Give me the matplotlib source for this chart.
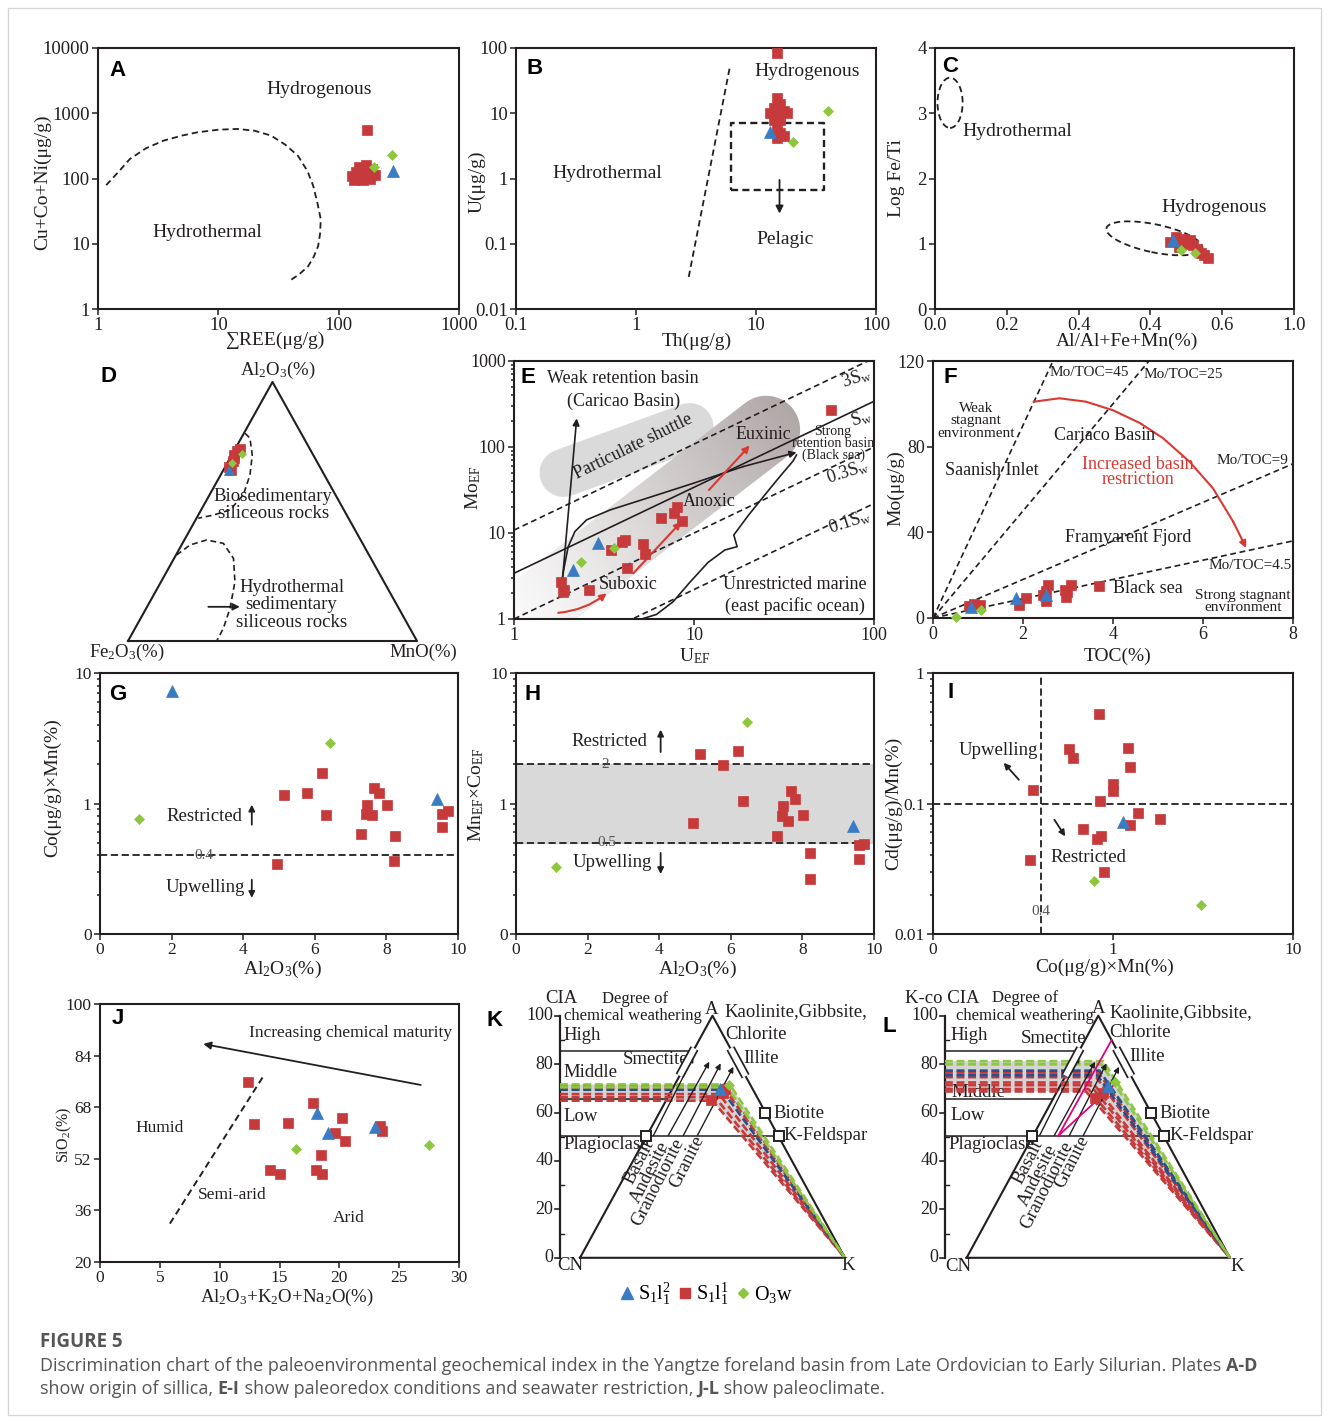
import numpy as np
import matplotlib
matplotlib.use("Agg")
import matplotlib.pyplot as plt
from matplotlib.patches import Ellipse, PathPatch, Rectangle
from matplotlib.path import Path
from matplotlib.transforms import ScaledTranslation
from matplotlib.lines import Line2D
from matplotlib.ticker import NullLocator, LogLocator, NullFormatter

plt.rcParams["font.family"] = ["Liberation Serif", "DejaVu Serif"]
plt.rcParams["mathtext.fontset"] = "custom"
plt.rcParams["mathtext.rm"] = "Liberation Serif"
plt.rcParams["mathtext.it"] = "Liberation Serif:italic"
plt.rcParams["mathtext.bf"] = "Liberation Serif:bold"
plt.rcParams["axes.unicode_minus"] = False

# ---------------- data ----------------
# A: sum REE vs Cu+Co+Ni
A_REE_RED = [172, 130, 140, 152, 165, 178, 188, 158, 148, 200, 170, 182, 160, 135]
A_CCN_RED = [560, 110, 125, 135, 110, 125, 140, 95, 150, 115, 160, 100, 130, 95]
A_REE_BLUE = [282]
A_CCN_BLUE = [132]
A_REE_GREEN = [198, 275]
A_CCN_GREEN = [148, 230]
A_BOUND_X = [1.17, 1.5, 1.84, 2.5, 3.5, 5, 6.7, 10, 14.4, 20, 27.4, 36, 45.9, 55, 61.5, 67, 71, 70, 67.5, 62, 55.7, 47, 39]
A_BOUND_Y = [79, 130, 199, 290, 380, 455, 510, 560, 575, 540, 455, 330, 223, 130, 77, 40, 23.7, 14, 9.2, 6.3, 4.5, 3.4, 2.7]

# B: Th vs U
B_TH_RED = [15, 15, 16, 14, 17, 13, 18, 15, 16, 15, 16, 17, 15, 14]
B_U_RED = [85, 17, 14, 12, 11, 10, 10, 9, 8, 6, 5, 4.5, 4.2, 8]
B_TH_BLUE = [13.2]
B_U_BLUE = [5.2]
B_TH_GREEN = [40, 20.5]
B_U_GREEN = [10.8, 3.6]
B_BOUND_TH = [2.75, 6.1]
B_BOUND_U = [0.031, 55]
B_BOX_TH = [6.2, 37]
B_BOX_U = [0.67, 7.0]

# C: Al/(Al+Fe+Mn) vs log Fe/Ti
C_X_RED = [0.655, 0.67, 0.69, 0.70, 0.72, 0.73, 0.75, 0.76, 0.74, 0.68, 0.71]
C_Y_RED = [1.02, 1.10, 1.08, 1.00, 0.98, 0.92, 0.82, 0.78, 0.86, 0.95, 1.05]
C_X_BLUE = [0.663]
C_Y_BLUE = [1.06]
C_X_GREEN = [0.686, 0.724]
C_Y_GREEN = [0.91, 0.86]
C_XTICK_LABELS = ["0.0", "0.2", "0.4", "0.4", "0.6", "1.0"]

# D: Al2O3 - Fe2O3 - MnO (%)
D_AL_RED = [71.8, 73.4, 69.5, 67.3, 74.1, 66.0, 70.5]
D_FE_RED = [27.3, 25.5, 29.0, 31.25, 24.15, 31.5, 28.0]
D_MN_RED = [0.9, 1.1, 1.5, 1.45, 1.75, 2.5, 1.5]
D_AL_BLUE = [66.0]
D_FE_BLUE = [32.1]
D_MN_BLUE = [1.9]
D_AL_GREEN = [72.1, 68.6]
D_FE_GREEN = [24.4, 29.8]
D_MN_GREEN = [3.5, 1.6]
D_BIO_AL = [80.2, 78.3, 71.8, 64.1, 56.4, 50.6, 48.6, 47.4]
D_BIO_MN = [0.4, 3.05, 7.1, 10.15, 11.7, 10.0, 5.2, 0.6]
D_HYD_AL = [33.2, 37.1, 39.0, 37.7, 31.9, 22.9, 12.6, 4.9, 0.0]
D_HYD_MN = [0.2, 2.95, 7.7, 14.15, 20.55, 25.55, 29.0, 30.55, 30.7]

# E: U_EF vs Mo_EF
E_U_RED = [1.82, 1.89, 1.86, 2.61, 3.44, 3.96, 4.16, 4.27, 5.22, 5.33, 6.55, 7.76, 8.07, 8.6, 58]
E_MO_RED = [2.67, 2.15, 2.04, 2.15, 6.35, 7.8, 8.3, 3.88, 7.45, 5.65, 14.8, 16.9, 20.2, 13.9, 269]
E_U_BLUE = [2.12, 2.94]
E_MO_BLUE = [3.71, 7.6]
E_U_GREEN = [2.35, 3.59]
E_MO_GREEN = [4.56, 6.63]
E_SW_RATIOS = [10.8, 3.4, 1.0, 0.22]
E_SW_LABELS = [r"3S$_{\mathrm{w}}$", r"S$_{\mathrm{w}}$", r"0.3S$_{\mathrm{w}}$", r"0.1S$_{\mathrm{w}}$"]
E_SW_STYLES = ["dash", "solid", "dash", "dash"]
E_TREND_U = [1.815, 1.895, 2.00, 2.18, 2.53, 3.41, 5.45, 9.89, 18.7, 37.1]
E_TREND_MO = [2.27, 3.88, 6.93, 10.4, 14.2, 18.5, 25.3, 37.8, 59.1, 86.7]
E_OPEN_U = [5.11, 6.19, 7.66, 9.48, 11.98, 14.83, 17.36, 16.64, 19.98, 24.73, 29.95, 35.5, 37.1]
E_OPEN_MO = [1.0, 1.13, 1.59, 2.67, 4.56, 6.34, 6.94, 9.48, 15.9, 27.7, 45.2, 68.7, 80.7]

# F: TOC vs Mo
F_TOC_RED = [0.81, 1.04, 0.92, 1.91, 2.06, 2.44, 2.56, 2.52, 2.93, 2.96, 3.07, 3.68, 2.50, 2.98]
F_MO_RED = [5.4, 5.9, 6.5, 6.2, 9.3, 10.9, 15.6, 7.8, 13.2, 9.6, 15.6, 15.1, 12.5, 12.0]
F_TOC_BLUE = [0.85, 1.84, 2.52]
F_MO_BLUE = [5.0, 9.3, 10.6]
F_TOC_GREEN = [0.5, 1.07]
F_MO_GREEN = [0.5, 3.9]
F_RATIOS = [45, 25, 9, 4.5]
F_ARC_TOC = [2.24, 2.81, 3.4, 4.0, 4.6, 5.11, 5.7, 6.22, 6.67, 6.96]
F_ARC_MO = [101, 102.6, 101, 97, 91, 84, 73, 60.6, 45, 32.7]

# G: Al2O3 vs Co x Mn
G_AL_RED = [5.15, 5.78, 6.20, 6.32, 4.94, 7.30, 7.44, 7.47, 7.60, 7.64, 7.78, 8.03, 8.25, 8.22, 9.55, 9.71, 9.55]
G_CM_RED = [1.17, 1.20, 1.71, 0.81, 0.343, 0.58, 0.83, 0.98, 0.81, 1.32, 1.20, 0.98, 0.56, 0.36, 0.83, 0.87, 0.66]
G_AL_BLUE = [2.02, 9.41]
G_CM_BLUE = [7.23, 1.09]
G_AL_GREEN = [1.10, 6.43]
G_CM_GREEN = [0.76, 2.92]

# H: Al2O3 vs Mn_EF x Co_EF
H_AL_RED = [5.14, 6.21, 5.79, 6.33, 4.95, 7.30, 7.43, 7.46, 7.60, 7.67, 7.79, 8.02, 8.22, 8.21, 9.58, 9.72, 9.58]
H_MC_RED = [2.41, 2.54, 1.96, 1.05, 0.705, 0.567, 0.80, 0.95, 0.74, 1.24, 1.09, 0.81, 0.42, 0.265, 0.48, 0.49, 0.373]
H_AL_BLUE = [9.41]
H_MC_BLUE = [0.67]
H_AL_GREEN = [1.12, 6.46]
H_MC_GREEN = [0.326, 4.19]

# I: Co x Mn vs Cd/Mn
I_CM_RED = [0.832, 0.567, 0.597, 1.205, 1.24, 0.996, 1.0, 0.36, 0.85, 1.37, 1.82, 1.25, 0.678, 0.857, 0.82, 0.347, 0.896]
I_CD_RED = [0.485, 0.263, 0.223, 0.268, 0.189, 0.141, 0.124, 0.128, 0.105, 0.0845, 0.076, 0.0689, 0.0641, 0.056, 0.0537, 0.037, 0.030]
I_CM_BLUE = [1.14]
I_CD_BLUE = [0.0718]
I_CM_GREEN = [0.78, 3.1]
I_CD_GREEN = [0.0253, 0.0168]

# J: Al2O3+K2O+Na2O vs SiO2
J_SUM_RED = [12.38, 12.89, 15.73, 14.19, 15.08, 17.81, 20.23, 19.62, 20.46, 18.45, 18.03, 18.59, 23.38, 23.6]
J_SI_RED = [75.9, 62.8, 63.0, 48.5, 47.2, 69.4, 64.5, 59.9, 57.5, 53.1, 48.5, 47.2, 62.1, 60.7]
J_SUM_BLUE = [18.17, 19.09, 22.96]
J_SI_BLUE = [66.1, 60.1, 61.9]
J_SUM_GREEN = [16.37, 27.5]
J_SI_GREEN = [55.0, 56.4]
J_DIVIDE_X = [5.84, 13.58]
J_DIVIDE_Y = [31.9, 77.2]

# K: CIA (A-CN-K); line levels and bend positions per sample
K_CIA_RED = [70.9, 69.9, 67.6, 66.3, 64.9]
K_BEND_RED = [55.0, 54.5, 52.5, 51.0, 50.0]
K_CIA_BLUE = [69.4]
K_BEND_BLUE = [53.5]
K_CIA_GREEN = [71.6, 70.4]
K_BEND_GREEN = [56.5, 55.6]
K_PT_X_RED = [49.5, 53.8, 54.8]
K_PT_Y_RED = [65.2, 67.9, 69.6]
K_PT_X_BLUE = [53.0]
K_PT_Y_BLUE = [69.8]
K_PT_X_GREEN = [56.3]
K_PT_Y_GREEN = [71.5]

# L: K-corrected CIA
L_CIA_RED = [76.5, 74.6, 72.4, 71.3, 69.7, 68.7]
L_BEND_RED = [50.0, 49.2, 47.8, 47.0, 46.2, 45.3]
L_CIA_BLUE = [77.3, 75.4]
L_BEND_BLUE = [50.4, 49.6]
L_CIA_GREEN = [81.2, 79.9]
L_BEND_GREEN = [51.9, 51.2]
L_PT_X_RED = [48.7, 51.9]
L_PT_Y_RED = [65.9, 67.9]
L_PT_X_BLUE = [53.8]
L_PT_Y_BLUE = [71.1]
L_PT_X_GREEN = [56.5]
L_PT_Y_GREEN = [72.4]

CIA_TICKS = [0, 20, 40, 60, 80, 100]
LEGEND_LABELS = [r"$\mathregular{S_1l_1^2}$", r"$\mathregular{S_1l_1^1}$", r"$\mathregular{O_3w}$"]

# ---------------- styling ----------------
RED = "#C63A3B"
BLUE = "#3A7CC3"
GREEN = "#8DC63F"
INK = "#231F20"
DASH = (0, (3.5, 2.2))
STYLE = {
    "blue": dict(marker="^", color=BLUE, ms=8.5),
    "red": dict(marker="s", color=RED, ms=7.5),
    "green": dict(marker="D", color=GREEN, ms=5.5),
}

W, H = 1329, 1423
fig = plt.figure(figsize=(W / 100, H / 100), dpi=100)


def px_axes(l, t, r, b):
    return fig.add_axes([l / W, 1 - b / H, (r - l) / W, (b - t) / H])


def ftext(x, y, s, **kw):
    return fig.text(x / W, 1 - y / H, s, **kw)


def frame(ax, size=13):
    for s in ax.spines.values():
        s.set_linewidth(1.5)
        s.set_color(INK)
    ax.tick_params(which="both", direction="out", colors=INK, labelsize=size, pad=2, width=1.1)
    ax.tick_params(which="major", length=4)
    ax.tick_params(which="minor", length=2.5)
    ax.patch.set_alpha(0)


def pts(ax, x, y, kind, clip=False):
    st = STYLE[kind]
    ax.plot(x, y, ls="none", marker=st["marker"], ms=st["ms"], mfc=st["color"],
            mec=st["color"], mew=0.5, clip_on=clip, zorder=6)


def all_pts(ax, red, blue, green):
    pts(ax, *red, "red")
    pts(ax, *blue, "blue")
    pts(ax, *green, "green")


def letter(x, y, s):
    ftext(x, y, s, family="Liberation Sans", weight="bold", size=16, ha="center", va="center", color="black")


def no_minor(ax, axis="both"):
    if axis in ("x", "both"):
        ax.xaxis.set_minor_locator(NullLocator())
    if axis in ("y", "both"):
        ax.yaxis.set_minor_locator(NullLocator())


def log_minor(axis):
    axis.set_minor_locator(LogLocator(base=10, subs=np.arange(2, 10)))
    axis.set_minor_formatter(NullFormatter())


def arrow(ax, start, end, color=INK, lw=1.1, ms=10, style="-|>", **kw):
    ax.annotate("", xy=end, xytext=start,
                arrowprops=dict(arrowstyle=style, color=color, lw=lw, mutation_scale=ms,
                                shrinkA=0, shrinkB=0, **kw), annotation_clip=False)


def stadium(length, width, angle):
    r = width / 2.0
    h = length / 2.0 - r
    t1 = np.linspace(-np.pi / 2, np.pi / 2, 40)
    t2 = np.linspace(np.pi / 2, 3 * np.pi / 2, 40)
    xs = np.concatenate([h + r * np.cos(t1), -h + r * np.cos(t2)])
    ys = np.concatenate([r * np.sin(t1), r * np.sin(t2)])
    a = np.deg2rad(angle)
    X = xs * np.cos(a) - ys * np.sin(a)
    Y = xs * np.sin(a) + ys * np.cos(a)
    v = np.column_stack([X, Y]) / 100.0
    v = np.vstack([v, v[:1]])
    return Path(v, closed=True)


# outer frame of the figure card
fig.add_artist(Rectangle((8 / W, 1 - 1415 / H), (1313) / W, (1407) / H, transform=fig.transFigure,
                         fill=False, ec="#D5D5D5", lw=0.9))

# ================= A =================
axA = px_axes(98, 48, 459, 309)
frame(axA, 13.5)
axA.set_xscale("log"); axA.set_yscale("log")
axA.plot(A_BOUND_X, A_BOUND_Y, ls=DASH, color=INK, lw=1.3)
all_pts(axA, (A_REE_RED, A_CCN_RED), (A_REE_BLUE, A_CCN_BLUE), (A_REE_GREEN, A_CCN_GREEN))
axA.text(68.4, 2312, "Hydrogenous", ha="center", va="center", size=14, color=INK)
axA.text(8.1, 14.8, "Hydrothermal", ha="center", va="center", size=14, color=INK)
axA.set_xlim(1, 1000); axA.set_ylim(1, 10000)
axA.set_xticks([1, 10, 100, 1000], ["1", "10", "100", "1000"])
axA.set_yticks([1, 10, 100, 1000, 10000], ["1", "10", "100", "1000", "10000"])
no_minor(axA)
letter(117, 70, "A")
ftext(275, 340, "∑REE(μg/g)", ha="center", va="center", size=14, color=INK)
ftext(43, 182, "Cu+Co+Ni(μg/g)", ha="center", va="center", size=14, rotation=90, color=INK)

# ================= B =================
axB = px_axes(516, 48, 876, 309)
frame(axB, 13.5)
axB.set_xscale("log"); axB.set_yscale("log")
axB.plot(B_BOUND_TH, B_BOUND_U, ls=DASH, color=INK, lw=1.3)
bx0, bx1 = B_BOX_TH
by0, by1 = B_BOX_U
axB.plot([bx0, bx1, bx1, bx0, bx0], [by0, by0, by1, by1, by0], ls=(0, (3, 1.8)), color=INK, lw=1.7)
arrow(axB, (15.7, 0.95), (15.7, 0.29), lw=1.3, ms=11)
all_pts(axB, (B_TH_RED, B_U_RED), (B_TH_BLUE, B_U_BLUE), (B_TH_GREEN, B_U_GREEN))
axB.text(26.8, 43.5, "Hydrogenous", ha="center", va="center", size=14, color=INK)
axB.text(0.573, 1.21, "Hydrothermal", ha="center", va="center", size=14, color=INK)
axB.text(17.5, 0.115, "Pelagic", ha="center", va="center", size=14, color=INK)
axB.set_xlim(0.1, 100); axB.set_ylim(0.01, 100)
axB.set_xticks([0.1, 1, 10, 100], ["0.1", "1", "10", "100"])
axB.set_yticks([0.01, 0.1, 1, 10, 100], ["0.01", "0.1", "1", "10", "100"])
no_minor(axB)
letter(535, 68, "B")
ftext(697, 341, "Th(μg/g)", ha="center", va="center", size=14, color=INK)
ftext(477, 182, "U(μg/g)", ha="center", va="center", size=14, rotation=90, color=INK)

# ================= C =================
axC = px_axes(935, 48, 1294, 309)
frame(axC, 13.5)
axC.add_patch(Ellipse((0.042, 3.16), 0.07, 0.77, fill=False, ls=DASH, lw=1.3, ec=INK))
trC = fig.dpi_scale_trans + ScaledTranslation(0.611, 1.083, axC.transData)
axC.add_patch(Ellipse((0, 0), 0.98, 0.28, angle=-11.8, transform=trC, fill=False, ls=DASH, lw=1.3, ec=INK))
all_pts(axC, (C_X_RED, C_Y_RED), (C_X_BLUE, C_Y_BLUE), (C_X_GREEN, C_Y_GREEN))
axC.text(0.229, 2.72, "Hydrothermal", ha="center", va="center", size=14, color=INK)
axC.text(0.778, 1.55, "Hydrogenous", ha="center", va="center", size=14, color=INK)
axC.set_xlim(0, 1); axC.set_ylim(0, 4)
axC.set_xticks(np.linspace(0, 1, 6), C_XTICK_LABELS)
axC.set_yticks([0, 1, 2, 3, 4], ["0", "1", "2", "3", "4"])
letter(950, 66, "C")
ftext(1127, 341, "Al/Al+Fe+Mn(%)", ha="center", va="center", size=14, color=INK)
ftext(897, 178, "Log Fe/Ti", ha="center", va="center", size=14, rotation=90, color=INK)

# ================= D (ternary) =================
axD = px_axes(128, 382, 417, 641)
axD.set_axis_off()
axD.set_xlim(0, 1); axD.set_ylim(0, 1)


def tern(al, mn):
    al = np.asarray(al, float) / 100.0
    mn = np.asarray(mn, float) / 100.0
    return mn + al / 2.0, al


def tern3(al, fe, mn):
    al = np.asarray(al, float); fe = np.asarray(fe, float); mn = np.asarray(mn, float)
    t = al + fe + mn
    return tern(al / t * 100, mn / t * 100)


axD.plot([0, 1, 0.5, 0], [0, 0, 1, 0], color=INK, lw=1.5, clip_on=False)
axD.plot(*tern(D_BIO_AL, D_BIO_MN), ls=DASH, color=INK, lw=1.2, clip_on=False)
axD.plot(*tern(D_HYD_AL, D_HYD_MN), ls=DASH, color=INK, lw=1.2, clip_on=False)
arrow(axD, tern(13.2, 21.2), tern(13.2, 32.1), lw=1.3, ms=10)
pts(axD, *tern3(D_AL_RED, D_FE_RED, D_MN_RED), "red")
axD.lines[-1].set_markersize(6.5)
pts(axD, *tern3(D_AL_BLUE, D_FE_BLUE, D_MN_BLUE), "blue")
axD.lines[-1].set_markersize(7)
pts(axD, *tern3(D_AL_GREEN, D_FE_GREEN, D_MN_GREEN), "green")
axD.lines[-1].set_markersize(4.5)
axD.text(0.503, 0.525, "Biosedimentary\nsiliceous rocks", ha="center", va="center", size=13.5,
         linespacing=1.05, color=INK)
axD.text(0.566, 0.139, "Hydrothermal\nsedimentary\nsiliceous rocks", ha="center", va="center", size=13.5,
         linespacing=1.05, color=INK)
letter(108, 377, "D")
ftext(278, 370, r"Al$_2$O$_3$(%)", ha="center", va="center", size=13.5, color=INK)
ftext(127, 652, r"Fe$_2$O$_3$(%)", ha="center", va="center", size=13.5, color=INK)
ftext(423, 652, "MnO(%)", ha="center", va="center", size=13.5, color=INK)

# ================= E =================
axEbg = px_axes(514, 361, 874, 619)
axEbg.set_axis_off()
axEbg.set_xlim(0, 1); axEbg.set_ylim(0, 1)
nx, ny = 360, 258
uu, vv = np.meshgrid((np.arange(nx) + 0.5) / nx, (np.arange(ny) + 0.5) / ny)
ang = np.deg2rad(37.6)
tt = (uu - 0.39) * 360 * np.cos(ang) + (vv - 0.40) * 258 * np.sin(ang)
ss = 0.05 + 0.95 * np.clip((tt + 175) / 350.0, 0, 1) ** 1.15
grey_end = np.array([0.69, 0.655, 0.655])
rgb = 1 - ss[..., None] * (1 - grey_end)
im = axEbg.imshow(rgb, extent=(0, 1, 0, 1), origin="lower", aspect="auto", interpolation="bilinear", zorder=1)
band = PathPatch(stadium(350, 68, 37.6),
                 transform=fig.dpi_scale_trans + ScaledTranslation(0.39, 0.40, axEbg.transAxes))
im.set_clip_path(band)
axEbg.add_patch(PathPatch(stadium(182, 48, 20),
                          transform=fig.dpi_scale_trans + ScaledTranslation(0.3127, 0.655, axEbg.transAxes),
                          fc="#DADADA", ec="none", zorder=0.5))
axEbg.set_xlim(0, 1); axEbg.set_ylim(0, 1)

axE = px_axes(514, 361, 874, 619)
frame(axE, 13)
axE.set_xscale("log"); axE.set_yscale("log")
u_line = np.array([1.0, 100.0])
for r, st in zip(E_SW_RATIOS, E_SW_STYLES):
    axE.plot(u_line, r * u_line, color=INK, lw=1.2, ls=DASH if st == "dash" else "-")
axE.plot(E_TREND_U[:-1], E_TREND_MO[:-1], color=INK, lw=1.2)
arrow(axE, (E_TREND_U[-2], E_TREND_MO[-2]), (E_TREND_U[-1], E_TREND_MO[-1]), lw=1.2, ms=10)
arrow(axE, (1.84, 2.27), (2.23, 215), lw=1.2, ms=10)
axE.plot(E_OPEN_U, E_OPEN_MO, color=INK, lw=1.2)
arrow(axE, (1.76, 1.18), (3.27, 1.99), color="#D83A32", lw=1.5, ms=10, connectionstyle="arc3,rad=0.15")
arrow(axE, (4.6, 3.4), (8.5, 13.5), color="#D83A32", lw=1.5, ms=10)
arrow(axE, (12.1, 31.6), (20.4, 104), color="#D83A32", lw=1.5, ms=10)
all_pts(axE, (E_U_RED, E_MO_RED), (E_U_BLUE, E_MO_BLUE), (E_U_GREEN, E_MO_GREEN))
axE.text(4.04, 618, "Weak retention basin", ha="center", va="center", size=13, color=INK)
axE.text(4.04, 337, "(Caricao Basin)", ha="center", va="center", size=13, color=INK)
axE.text(4.6, 101, "Particulate shuttle", ha="center", va="center", size=13, rotation=26, color=INK)
axE.text(24.2, 138, "Euxinic", ha="center", va="center", size=13, color=INK)
axE.text(59.2, 110, "Strong\nretention basin\n(Black sea)", ha="center", va="center", size=10,
         linespacing=0.85, color=INK)
axE.text(12.2, 23.1, "Anoxic", ha="center", va="center", size=13, color=INK)
axE.text(4.31, 2.53, "Suboxic", ha="center", va="center", size=13, color=INK)
axE.text(36.3, 2.53, "Unrestricted marine", ha="center", va="center", size=13, color=INK)
axE.text(36.3, 1.43, "(east pacific ocean)", ha="center", va="center", size=13, color=INK)
for (ux, my), lab in zip([(79.8, 629), (85, 215), (71.7, 51.6), (73.3, 13.5)], E_SW_LABELS):
    axE.text(ux, my, lab, ha="center", va="center", size=13, rotation=18, color=INK)
axE.set_xlim(1, 100); axE.set_ylim(1, 1000)
axE.set_xticks([1, 10, 100], ["1", "10", "100"])
axE.set_yticks([1, 10, 100, 1000], ["1", "10", "100", "1000"])
no_minor(axE, "x")
log_minor(axE.yaxis)
letter(528, 378, "E")
ftext(695, 656, r"U$_{\mathrm{EF}}$", ha="center", va="center", size=14, color=INK)
ftext(473, 488, r"Mo$_{\mathrm{EF}}$", ha="center", va="center", size=14, rotation=90, color=INK)

# ================= F =================
axF = px_axes(933, 361, 1293, 618)
frame(axF, 13)
for r in F_RATIOS:
    xe = min(8.0, 120.0 / r)
    axF.plot([0, xe], [0, r * xe], ls=DASH, color=INK, lw=1.2)
axF.plot(F_ARC_TOC[:-1], F_ARC_MO[:-1], color="#D83A32", lw=1.5)
arrow(axF, (F_ARC_TOC[-2], F_ARC_MO[-2]), (F_ARC_TOC[-1], F_ARC_MO[-1]), color="#D83A32", lw=1.5, ms=10)
all_pts(axF, (F_TOC_RED, F_MO_RED), (F_TOC_BLUE, F_MO_BLUE), (F_TOC_GREEN, F_MO_GREEN))
axF.text(3.48, 114.5, "Mo/TOC=45", ha="center", va="center", size=11, color=INK)
axF.text(5.56, 113.5, "Mo/TOC=25", ha="center", va="center", size=11, color=INK)
axF.text(7.1, 73.5, "Mo/TOC=9", ha="center", va="center", size=11, color=INK)
axF.text(7.04, 24.6, "Mo/TOC=4.5", ha="center", va="center", size=11, color=INK)
axF.text(0.96, 92, "Weak\nstagnant\nenvironment", ha="center", va="center", size=11, linespacing=0.95, color=INK)
axF.text(3.81, 85, "Cariaco Basin", ha="center", va="center", size=13, color=INK)
axF.text(1.3, 69, "Saanish Inlet", ha="center", va="center", size=13, color=INK)
axF.text(4.56, 68, "Increased basin\nrestriction", ha="center", va="center", size=13, color="#D83A32",
         linespacing=0.85)
axF.text(4.33, 37.6, "Framyarent Fjord", ha="center", va="center", size=13, color=INK)
axF.text(4.78, 14, "Black sea", ha="center", va="center", size=13, color=INK)
axF.text(6.89, 7.8, "Strong stagnant\nenvironment", ha="center", va="center", size=11, linespacing=0.95, color=INK)
axF.set_xlim(0, 8); axF.set_ylim(0, 120)
axF.set_xticks([0, 2, 4, 6, 8], ["0", "2", "4", "6", "8"])
axF.set_yticks([0, 40, 80, 120], ["0", "40", "80", "120"])
letter(950, 378, "F")
ftext(1118, 656, "TOC(%)", ha="center", va="center", size=14, color=INK)
ftext(896, 488, "Mo(μg/g)", ha="center", va="center", size=14, rotation=90, color=INK)


# ================= G / H shared frame =================
def al_log_panel(box, tick_size=12.5):
    ax = px_axes(*box)
    frame(ax, tick_size)
    ax.set_yscale("log")
    return ax


def finish_al_log(ax):
    ax.set_xlim(0, 10); ax.set_ylim(0.1, 10)
    ax.set_xticks([0, 2, 4, 6, 8, 10], ["0", "2", "4", "6", "8", "10"])
    ax.set_yticks([0.1, 1, 10], ["0", "1", "10"])
    log_minor(ax.yaxis)


axG = al_log_panel((100, 673, 458, 934))
axG.axhline(0.4, ls=(0, (4, 2)), color=INK, lw=1.3)
axG.text(2.89, 0.4, "0.4", ha="center", va="center", size=11, color="#555555")
axG.text(2.91, 0.80, "Restricted", ha="center", va="center", size=13.5, color=INK)
axG.text(2.94, 0.228, "Upwelling", ha="center", va="center", size=13.5, color=INK)
arrow(axG, (4.24, 0.689), (4.24, 0.98), lw=1.3, ms=9)
arrow(axG, (4.24, 0.26), (4.24, 0.189), lw=1.3, ms=9)
all_pts(axG, (G_AL_RED, G_CM_RED), (G_AL_BLUE, G_CM_BLUE), (G_AL_GREEN, G_CM_GREEN))
finish_al_log(axG)
letter(118, 695, "G")
ftext(282, 969, r"Al$_2$O$_3$(%)", ha="center", va="center", size=14, color=INK)
ftext(53, 788, "Co(μg/g)×Mn(%)", ha="center", va="center", size=14, rotation=90, color=INK)

axH = al_log_panel((516, 673, 874, 934))
axH.axhspan(0.5, 2.0, color="#D9D9D9", zorder=0)
axH.axhline(2.0, ls=(0, (4, 2)), color=INK, lw=1.3)
axH.axhline(0.5, ls=(0, (4, 2)), color=INK, lw=1.3)
axH.text(2.49, 2.0, "2", ha="center", va="center", size=11, color="#555555")
axH.text(2.54, 0.5, "0.5", ha="center", va="center", size=11, color="#555555")
axH.text(2.61, 2.96, "Restricted", ha="center", va="center", size=13.5, color=INK)
axH.text(2.68, 0.356, "Upwelling", ha="center", va="center", size=13.5, color=INK)
arrow(axH, (4.04, 2.48), (4.04, 3.68), lw=1.3, ms=9)
arrow(axH, (4.04, 0.418), (4.04, 0.288), lw=1.3, ms=9)
all_pts(axH, (H_AL_RED, H_MC_RED), (H_AL_BLUE, H_MC_BLUE), (H_AL_GREEN, H_MC_GREEN))
finish_al_log(axH)
letter(533, 695, "H")
ftext(697, 969, r"Al$_2$O$_3$(%)", ha="center", va="center", size=14, color=INK)
ftext(476, 795, r"Mn$_{\mathrm{EF}}$×Co$_{\mathrm{EF}}$", ha="center", va="center", size=14, rotation=90, color=INK)

# ================= I =================
axI = px_axes(933, 673, 1293, 934)
frame(axI, 12.5)
axI.set_xscale("log"); axI.set_yscale("log")
axI.axvline(0.4, ls=(0, (4, 2)), color=INK, lw=1.3)
axI.axhline(0.1, ls=(0, (4, 2)), color=INK, lw=1.3)
axI.text(0.4, 0.0149, "0.4", ha="center", va="center", size=11, color="#555555")
axI.text(0.23, 0.254, "Upwelling", ha="center", va="center", size=13.5, color=INK)
axI.text(0.733, 0.0387, "Restricted", ha="center", va="center", size=13.5, color=INK)
arrow(axI, (0.30, 0.152), (0.247, 0.205), lw=1.3, ms=9)
arrow(axI, (0.472, 0.0752), (0.543, 0.056), lw=1.3, ms=9)
all_pts(axI, (I_CM_RED, I_CD_RED), (I_CM_BLUE, I_CD_BLUE), (I_CM_GREEN, I_CD_GREEN))
axI.set_xlim(0.1, 10); axI.set_ylim(0.01, 1)
axI.set_xticks([0.1, 1, 10], ["0", "1", "10"])
axI.set_yticks([0.01, 0.1, 1], ["0.01", "0.1", "1"])
no_minor(axI, "x")
log_minor(axI.yaxis)
ftext(951, 693, "I", family="Liberation Sans", weight="bold", size=16, ha="center", va="center")
ftext(1105, 967, "Co(μg/g)×Mn(%)", ha="center", va="center", size=14, color=INK)
ftext(894, 803, "Cd(μg/g)/Mn(%)", ha="center", va="center", size=14, rotation=90, color=INK)

# ================= J =================
axJ = px_axes(100, 1004, 459, 1262)
frame(axJ, 12.5)
axJ.plot(J_DIVIDE_X, J_DIVIDE_Y, ls=DASH, color=INK, lw=1.4)
arrow(axJ, (26.8, 74.9), (8.63, 87.6), lw=1.3, ms=11)
all_pts(axJ, (J_SUM_RED, J_SI_RED), (J_SUM_BLUE, J_SI_BLUE), (J_SUM_GREEN, J_SI_GREEN))
axJ.text(20.96, 90.9, "Increasing chemical maturity", ha="center", va="center", size=12.5, color=INK)
axJ.text(5.0, 61.4, "Humid", ha="center", va="center", size=12.5, color=INK)
axJ.text(11.05, 40.7, "Semi-arid", ha="center", va="center", size=12.5, color=INK)
axJ.text(20.8, 33.7, "Arid", ha="center", va="center", size=12.5, color=INK)
axJ.set_xlim(0, 30); axJ.set_ylim(20, 100)
axJ.set_xticks([0, 5, 10, 15, 20, 25, 30], ["0", "5", "10", "15", "20", "25", "30"])
axJ.set_yticks([20, 36, 52, 68, 84, 100], ["20", "36", "52", "68", "84", "100"])
letter(118, 1019, "J")
ftext(287, 1297, r"Al$_2$O$_3$+K$_2$O+Na$_2$O(%)", ha="center", va="center", size=13.5, color=INK)
ftext(64, 1135, r"SiO$_2$(%)", ha="center", va="center", size=11.5, rotation=90, color=INK)


# ================= K / L (A-CN-K) =================
def cia_panel(box, xlim, x_axis, lines, pts_red, pts_blue, pts_green):
    ax = px_axes(*box)
    ax.set_axis_off()
    ax.set_xlim(*xlim); ax.set_ylim(-13.3, 110.6)
    # vertical CIA scale
    ax.plot([x_axis, x_axis], [0, 100], color=INK, lw=1.6, clip_on=False)
    for v in CIA_TICKS:
        ax.plot([x_axis - 1.8, x_axis], [v, v], color=INK, lw=1.2, clip_on=False)
        ax.text(x_axis - 2.6, v, str(v), ha="right", va="center", size=13, color=INK)
    for v in range(10, 100, 20):
        ax.plot([x_axis, x_axis + 1.5], [v, v], color=INK, lw=1.0, clip_on=False)
    # triangle
    ax.plot([0, 100, 50, 0], [0, 0, 100, 0], color=INK, lw=1.5, clip_on=False, zorder=2)
    # weathering-degree boundaries
    ax.plot([x_axis, 74.6], [50.5, 50.5], color=INK, lw=1.1, zorder=2)
    ax.plot([x_axis, 42.2], [85.6, 85.6], color=INK, lw=1.1, zorder=2)
    ax.plot([x_axis, 32.7], [65.5, 65.5], color=INK, lw=1.1, zorder=2)
    # data lines with grey envelope
    all_cia = [c for cs, bs, col in lines for c in cs]
    all_bend = [b for cs, bs, col in lines for b in bs]
    i_top = int(np.argmax(all_cia)); i_bot = int(np.argmin(all_cia))
    env = [(x_axis, all_cia[i_top]), (all_bend[i_top], all_cia[i_top]), (100, 0),
           (all_bend[i_bot], all_cia[i_bot]), (x_axis, all_cia[i_bot])]
    ax.add_patch(plt.Polygon(env, closed=True, fc="#D4D4D4", ec="none", zorder=1))
    for cs, bs, col in lines:
        for c, b in zip(cs, bs):
            ax.plot([x_axis, b, 100], [c, c, 0], color=col, lw=1.9, ls=(0, (3, 1.4)), zorder=3)
    # mineral boxes
    for (xa, ya), (xb, yb) in [((37.6, 75.2), (43.2, 86.5)), ((56.8, 86.5), (62.5, 75.0))]:
        ax.plot([xa, xb], [ya, yb], color=INK, lw=6.5, solid_capstyle="butt", zorder=4)
        ax.plot([xa, xb], [ya, yb], color="white", lw=4.0, solid_capstyle="butt", zorder=4.1)
    ax.plot([25, 70, 75], [50.5, 60, 50.5], ls="none", marker="s", ms=7.5, mfc="white", mec=INK, mew=1.4,
            zorder=5, clip_on=False)
    # rock trend arrows
    for base, tip in [((27.7, 50.5), (42.8, 83.1)), ((33.3, 50.5), (48.8, 81.0)),
                      ((39.0, 50.5), (53.1, 80.3)), ((44.3, 50.5), (57.9, 78.9))]:
        arrow(ax, base, tip, lw=1.0, ms=8)
    pts(ax, *pts_red, "red")
    pts(ax, *pts_blue, "blue")
    pts(ax, *pts_green, "green")
    return ax


axK = cia_panel((500, 990, 890, 1290), (-30.2, 117.0), -7.55,
                [(K_CIA_RED, K_BEND_RED, RED), (K_CIA_BLUE, K_BEND_BLUE, "#2B4E8C"),
                 (K_CIA_GREEN, K_BEND_GREEN, GREEN)],
                (K_PT_X_RED, K_PT_Y_RED), (K_PT_X_BLUE, K_PT_Y_BLUE), (K_PT_X_GREEN, K_PT_Y_GREEN))
tk = dict(size=13.5, color=INK, va="center")
axK.text(-13.2, 107.2, "CIA", ha="left", **tk)
axK.text(20.8, 106.9, "Degree of", ha="center", size=12, color=INK, va="center")
axK.text(20.1, 100.0, "chemical weathering", ha="center", size=12, color=INK, va="center")
axK.text(49.7, 102.6, "A", ha="center", **tk)
axK.text(54.7, 101.7, "Kaolinite,Gibbsite,", ha="left", **tk)
axK.text(54.7, 92.3, "Chlorite", ha="left", **tk)
axK.text(61.6, 82.4, "Illite", ha="left", **tk)
axK.text(40.9, 82.1, "Smectite", ha="right", **tk)
axK.text(73.0, 59.5, "Biotite", ha="left", **tk)
axK.text(76.8, 50.5, "K-Feldspar", ha="left", **tk)
axK.text(-6.3, 91.7, "High", ha="left", **tk)
axK.text(-6.3, 76.7, "Middle", ha="left", **tk)
axK.text(-6.3, 58.5, "Low", ha="left", **tk)
axK.text(-6.3, 46.6, "Plagioclase", ha="left", zorder=6, **tk)
axK.text(-3.8, -3.0, "CN", ha="center", **tk)
axK.text(101.3, -3.0, "K", ha="center", **tk)
for (xx, yy), name in zip([(22.4, 39.4), (26.4, 35.5), (29.5, 31.4), (40.3, 39.7)],
                          ["Basalt", "Andesite", "Granodiorite", "Granite"]):
    axK.text(xx, yy, name, rotation=63, rotation_mode="anchor", ha="center", va="center", size=13.5, color=INK)
letter(495, 1021, "K")

axL = cia_panel((895, 990, 1320, 1290), (-27.2, 134.2), -8.24,
                [(L_CIA_RED, L_BEND_RED, RED), (L_CIA_BLUE, L_BEND_BLUE, "#2B4E8C"),
                 (L_CIA_GREEN, L_BEND_GREEN, GREEN)],
                (L_PT_X_RED, L_PT_Y_RED), (L_PT_X_BLUE, L_PT_Y_BLUE), (L_PT_X_GREEN, L_PT_Y_GREEN))
axL.plot([34.8, 55.1], [50.4, 90.0], color="#E4007F", lw=1.3, zorder=5)
axL.plot([34.8, 57.0], [50.4, 72.5], color="#E4007F", lw=1.3, zorder=5)
axL.text(-23.4, 107.2, "K-co CIA", ha="left", **tk)
axL.text(22.1, 107.2, "Degree of", ha="center", size=12, color=INK, va="center")
axL.text(22.1, 100.0, "chemical weathering", ha="center", size=12, color=INK, va="center")
axL.text(50.0, 103.0, "A", ha="center", **tk)
axL.text(54.2, 101.1, "Kaolinite,Gibbsite,", ha="left", **tk)
axL.text(54.2, 92.9, "Chlorite", ha="left", **tk)
axL.text(61.8, 83.1, "Illite", ha="left", **tk)
axL.text(32.9, 90.4, "Smectite", ha="center", **tk)
axL.text(73.1, 59.6, "Biotite", ha="left", **tk)
axL.text(77.0, 50.6, "K-Feldspar", ha="left", **tk)
axL.text(-6.3, 91.7, "High", ha="left", **tk)
axL.text(-5.7, 68.3, "Middle", ha="left", zorder=2, **tk)
axL.text(-6.3, 58.7, "Low", ha="left", **tk)
axL.text(-7.0, 46.9, "Plagioclase", ha="left", zorder=6, **tk)
axL.text(-3.2, -3.7, "CN", ha="center", **tk)
axL.text(102.8, -3.7, "K", ha="center", **tk)
for (xx, yy), name in zip([(23.4, 39.7), (27.2, 34.2), (30.4, 30.0), (39.9, 39.7)],
                          ["Basalt", "Andesite", "Granodiorite", "Granite"]):
    axL.text(xx, yy, name, rotation=63, rotation_mode="anchor", ha="center", va="center", size=13.5, color=INK)
letter(889, 1026, "L")

# ================= legend =================
handles = [Line2D([], [], ls="none", marker=STYLE[k]["marker"], ms=STYLE[k]["ms"] - 0.5,
                  mfc=STYLE[k]["color"], mec=STYLE[k]["color"]) for k in ("blue", "red", "green")]
fig.legend(handles, LEGEND_LABELS, loc="center", bbox_to_anchor=(705 / W, 1 - 1294 / H), ncol=3,
           frameon=False, handletextpad=0.05, columnspacing=0.2, handlelength=1.0, fontsize=14.5)

# ================= caption =================
CAP_C = "#555555"
CAP_FS = 13
ftext(40, 1342, "FIGURE 5", family="Open Sans", weight="bold", size=13.5, color=CAP_C, ha="left", va="center")
renderer = fig.canvas.get_renderer()


def caption_line(y, parts, x0=40):
    x = x0
    for txt, bold in parts:
        t = ftext(x, y, txt, family="Open Sans", weight="bold" if bold else "normal", size=CAP_FS,
                  color=CAP_C, ha="left", va="center")
        x += t.get_window_extent(renderer=renderer).width


caption_line(1366, [("Discrimination chart of the paleoenvironmental geochemical index in the Yangtze foreland basin "
                     "from Late Ordovician to Early Silurian. Plates ", False), ("A-D", True)])
caption_line(1389, [("show origin of sillica, ", False), ("E-I", True),
                    (" show paleoredox conditions and seawater restriction, ", False), ("J-L", True),
                    (" show paleoclimate.", False)])

fig.savefig("out.png", dpi=100)
